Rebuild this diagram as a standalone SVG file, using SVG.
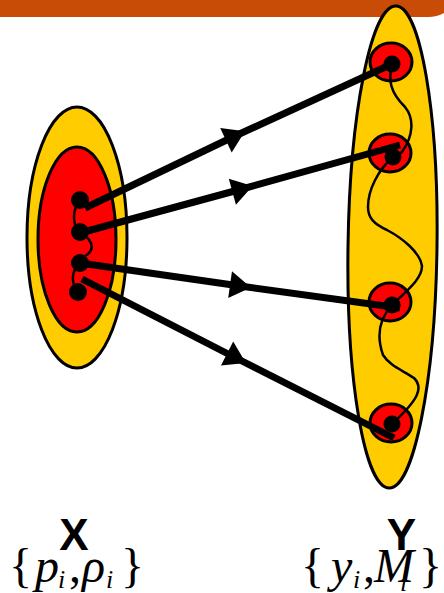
<svg xmlns="http://www.w3.org/2000/svg" width="444" height="593" viewBox="0 0 444 593">
<style>
.yel{fill:#FFCC00;stroke:#000;stroke-width:3}
.red{fill:#FF0000;stroke:#000;stroke-width:3}
.dot{fill:#000}
.wave{fill:none;stroke:#000;stroke-width:2.5}
.arr{fill:none;stroke:#000;stroke-width:7;marker-mid:url(#ah)}
.lbl{font-family:"Liberation Sans",Arial,sans-serif;font-weight:bold;font-size:44px;text-anchor:middle;fill:#000}
.m{font-family:"Liberation Serif","Times New Roman",serif;font-size:48px;fill:#000}
.it{font-style:italic}
.sub{font-family:"Liberation Serif","Times New Roman",serif;font-style:italic;font-size:26px;fill:#000}
</style>
<defs>
<marker id="ah" markerUnits="userSpaceOnUse" markerWidth="40" markerHeight="40" viewBox="-20 -20 40 40" refX="10" refY="0" orient="auto" overflow="visible">
<path d="M0,-13.5 L21,0 L0,13.5 Z" fill="#000"/>
</marker>
</defs>
<path id="band" d="M0,0 H444 V13 Q437,17 428,17 H0 Z" fill="#C84B06"/>
<g id="X">
<ellipse class="yel" cx="77" cy="237.5" rx="50" ry="130.5"/>
<ellipse class="red" cx="77" cy="239.5" rx="39" ry="92.5"/>
<path class="wave" d="M80,200 C72,210 72,225 80,232 C90,238 96,247 88,254 C82,258 79,260 80,263 C72,270 70,282 78,292"/>
<circle class="dot" cx="80" cy="200" r="9"/>
<circle class="dot" cx="80" cy="232" r="9"/>
<circle class="dot" cx="80" cy="263" r="9"/>
<circle class="dot" cx="78" cy="292" r="9"/>
</g>
<g id="Y">
<ellipse class="yel" cx="392.5" cy="247" rx="44.5" ry="241" transform="rotate(0.8 392.5 247)"/>
<ellipse class="red" cx="391" cy="62" rx="21" ry="19"/>
<ellipse class="red" cx="390" cy="153" rx="21" ry="19"/>
<ellipse class="red" cx="390" cy="302" rx="21" ry="19"/>
<ellipse class="red" cx="391" cy="423" rx="21" ry="19"/>
<path class="wave" d="M392,64 C388,80 390,92 405,107 C414,118 414,135 402,152 L393,157 C378,170 368,190 368,207 C368,218 374,224 387,230 C402,238 420,252 422,266 C422,278 410,288 392,305 C380,318 376,335 383,355 C390,366 402,370 414,378 C424,388 418,400 392,424"/>
<circle class="dot" cx="392" cy="64" r="8.5"/>
<circle class="dot" cx="393" cy="157" r="8.5"/>
<circle class="dot" cx="392" cy="305" r="8.5"/>
<circle class="dot" cx="392" cy="424" r="8.5"/>
</g>
<g id="connectors">
<path class="arr" d="M85,208 L235,136 L392,64"/>
<path class="arr" d="M80,233 L242,189 L400,145"/>
<path class="arr" d="M80,263 L240,286 L400,308"/>
<path class="arr" d="M82,279 L236,358 L394,438"/>
</g>
<g id="labels">
<text class="lbl" x="74" y="550">X</text>
<text class="lbl" x="401.5" y="550">Y</text>
<text class="m" x="9" y="582">{</text>
<text class="m it" x="35" y="582">p</text>
<text class="sub" x="58" y="588">i</text>
<text class="m" x="69" y="582">,</text>
<text class="m it" x="82" y="582">ρ</text>
<text class="sub" x="106" y="588">i</text>
<text class="m" x="121" y="582">}</text>
<text class="m" x="301" y="582">{</text>
<text class="m it" x="331" y="582">y</text>
<text class="sub" x="353" y="588">i</text>
<text class="m" x="363" y="582">,</text>
<text class="m it" x="374" y="582">M</text>
<text class="sub" x="400" y="591">i</text>
<text class="m" x="419" y="582">}</text>
</g>
</svg>
